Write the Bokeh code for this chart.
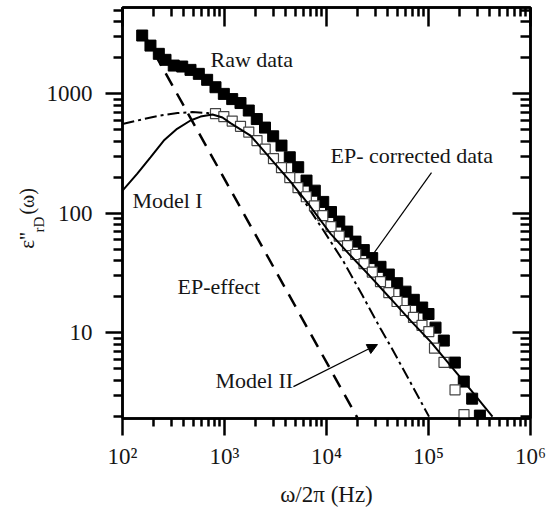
from bokeh.plotting import figure
from bokeh.layouts import row
from bokeh.models import LogAxis, FixedTicker, Label, Arrow, NormalHead
from bokeh.embed import file_html
from bokeh.resources import INLINE

FONT = "Liberation Serif"
INK = "#161616"

# Raw data (filled squares)
raw_freq = [156, 188, 227, 264, 318, 385, 464, 560, 676, 816, 985, 1190, 1435, 1730,
            2073, 2495, 3000, 3620, 4365, 5280, 6370, 7680, 9290, 11070, 13340, 15960,
            19240, 23210, 28050, 33850, 40820, 49320, 59550, 71780, 86730, 100000,
            117200, 141300, 181200, 221800, 268000, 319000]
raw_eps = [3060, 2520, 2150, 1915, 1715, 1683, 1578, 1462, 1303, 1130, 994, 899, 833, 721,
           612, 519, 439, 367, 293, 242, 187, 154, 124, 102, 84.9, 70.0,
           57.7, 49.0, 42.0, 35.5, 30.6, 25.9, 22.0, 18.8, 16.2, 14.3,
           11.0, 8.57, 5.61, 3.89, 2.80, 2.02]

# EP-corrected data (open squares)
corr_freq = [816, 985, 1190, 1435, 1730, 2083, 2506, 3020, 3620, 4365, 5256, 6340, 7620,
             9200, 11070, 13340, 16070, 19370, 23330, 28120, 33830, 40820, 49130, 59290,
             71290, 86340, 100700, 114500, 141900, 182000, 222800]
corr_eps = [680, 642, 589, 532, 476, 404, 343, 286, 240, 198, 163, 137, 115,
            95.3, 77.1, 64.2, 53.5, 45.0, 37.8, 32.1, 26.7, 21.6, 18.2, 15.3,
            13.4, 11.5, 10.2, 7.41, 5.64, 3.32, 2.06]

# Model I (solid)
model1_freq = [100, 139, 188, 254, 343, 464, 582, 763, 955, 1145, 1800, 2825, 4436, 6966,
               10940, 17180, 26980, 42360, 66650, 104600, 164400, 258200, 424000]
model1_eps = [154, 213, 293, 404, 507, 595, 642, 667, 630, 566, 445, 286, 183, 113,
              67.4, 44.1, 29.4, 19.3, 12.6, 8.41, 5.29, 3.33, 1.98]

# Model II (dash-dot)
model2_freq = [100, 161, 236, 346, 485, 681, 914, 1282, 1800, 2523, 3540, 5560, 9350,
               14690, 22550, 33820, 44340, 66650, 101200]
model2_eps = [556, 612, 655, 687, 700, 687, 642, 550, 445, 333, 236, 140, 71.4,
              39.3, 20.4, 10.8, 7.21, 3.82, 1.98]

# EP-effect (dashed power law)
ep_freq = [160, 20000]
ep_eps = [3200, 1.95]

x_major = [1e2, 1e3, 1e4, 1e5, 1e6]
x_labels = ["10²", "10³", "10⁴", "10⁵", "10⁶"]
y_major = [10, 100, 1000]
y_labels = ["10", "100", "1000"]
x_minor = [m * 10 ** e for e in range(2, 6) for m in range(2, 10)]
y_minor = [m * 10 ** e for e in range(0, 4) for m in range(2, 10)]

X_RANGE = (100, 1e6)
Y_RANGE = (1.91, 5250)
TOP, BOTTOM, FRAME_H = 7, 90, 411
SIDE_W = 103          # left panel holding y tick labels and y title

p = figure(frame_width=408, frame_height=FRAME_H, x_axis_type="log", y_axis_type="log",
           x_range=X_RANGE, y_range=Y_RANGE,
           output_backend="svg", toolbar_location=None,
           min_border_left=122 - SIDE_W, min_border_right=22,
           min_border_top=TOP, min_border_bottom=BOTTOM)
p.xgrid.visible = False
p.ygrid.visible = False
p.outline_line_color = "black"
p.outline_line_width = 2.5
p.background_fill_color = "white"
p.border_fill_color = "white"


def style(ax):
    ax.axis_line_width = 2.5
    ax.axis_line_color = "black"
    ax.major_tick_line_width = 2.5
    ax.minor_tick_line_width = 2.5
    ax.major_tick_line_color = "black"
    ax.minor_tick_line_color = "black"
    ax.major_label_text_font = FONT
    ax.major_label_text_font_size = "23px"
    ax.major_label_text_color = INK


xb = p.xaxis[0]
style(xb)
xb.ticker = FixedTicker(ticks=x_major, minor_ticks=x_minor)
xb.major_label_overrides = dict(zip(x_major, x_labels))
xb.major_tick_out = 17
xb.major_tick_in = 0
xb.minor_tick_out = 8
xb.minor_tick_in = 0
xb.major_label_standoff = 8
xb.axis_label = "ω/2π (Hz)"
xb.axis_label_text_font = FONT
xb.axis_label_text_font_size = "23px"
xb.axis_label_text_font_style = "normal"
xb.axis_label_text_color = INK
xb.axis_label_standoff = 10

yl = p.yaxis[0]
style(yl)
yl.ticker = FixedTicker(ticks=y_major, minor_ticks=y_minor)
yl.major_label_overrides = {t: "" for t in y_major}
yl.major_label_text_font_size = "0px"
yl.major_label_standoff = 0
yl.major_tick_out = 17
yl.major_tick_in = 0
yl.minor_tick_out = 9
yl.minor_tick_in = 0

top = LogAxis(ticker=FixedTicker(ticks=x_major, minor_ticks=x_minor),
              major_tick_in=19, major_tick_out=0, minor_tick_in=9, minor_tick_out=0,
              major_label_standoff=0, major_label_overrides={t: "" for t in x_major})
style(top)
top.major_label_text_font_size = "0px"
p.add_layout(top, "above")

right = LogAxis(ticker=FixedTicker(ticks=y_major, minor_ticks=y_minor),
                major_tick_in=18, major_tick_out=0, minor_tick_in=10, minor_tick_out=0,
                major_label_standoff=0, major_label_overrides={t: "" for t in y_major})
style(right)
right.major_label_text_font_size = "0px"
p.add_layout(right, "right")

# curves and data
p.line(ep_freq, ep_eps, line_color="black", line_width=2.5, line_dash="14 9")
p.line(model2_freq, model2_eps, line_color="black", line_width=2, line_dash="12 4 3 4")
p.scatter(raw_freq, raw_eps, marker="square", size=11, fill_color="black", line_color="black")
p.scatter(corr_freq, corr_eps, marker="square", size=10, fill_color="white",
          line_color="#444444", line_width=1.2)
p.line(model1_freq, model1_eps, line_color="black", line_width=2)


def add_text(fig, x, y, text, size="22px", **kw):
    kw.setdefault("text_baseline", "alphabetic")
    fig.add_layout(Label(x=x, y=y, text=text, text_font=FONT, text_font_size=size,
                         text_color=INK, **kw))


add_text(p, 729, 1683, "Raw data", y_offset=7)
add_text(p, 10940, 265, "EP- corrected data", y_offset=7)
add_text(p, 125, 111, "Model I", y_offset=7)
add_text(p, 346, 21.2, "EP-effect", y_offset=7)
add_text(p, 816, 3.47, "Model II", y_offset=7)

p.add_layout(Arrow(x_start=107000, y_start=218, x_end=27600, y_end=43.3, end=None,
                   line_color="black", line_width=1.2))
p.add_layout(Arrow(x_start=4740, y_start=3.53, x_end=31600, y_end=7.94,
                   end=NormalHead(size=10, fill_color="black", line_color="black"),
                   line_color="black", line_width=1.2))

# left panel: y tick labels and the y title ε''rD(ω), on the same log scale
s = figure(frame_width=SIDE_W, frame_height=FRAME_H, x_range=(0, SIDE_W),
           y_axis_type="log", y_range=Y_RANGE, output_backend="svg", toolbar_location=None,
           min_border_left=0, min_border_right=0, min_border_top=TOP,
           min_border_bottom=BOTTOM)
s.axis.visible = False
s.xgrid.visible = False
s.ygrid.visible = False
s.outline_line_color = None
s.background_fill_color = "white"
s.border_fill_color = "white"

for val, lab in zip(y_major, y_labels):
    add_text(s, 92, val, lab, size="23px", text_align="right", text_baseline="middle")

add_text(s, 26, 50.4, "ε''", size="21px", angle=90, angle_units="deg")
add_text(s, 38, 68.7, "rD", size="15px", angle=90, angle_units="deg")
add_text(s, 26, 97.1, "(ω)", size="20px", angle=90, angle_units="deg")

layout = row(s, p, spacing=0)
open("out.html", "w").write(file_html(layout, INLINE))
